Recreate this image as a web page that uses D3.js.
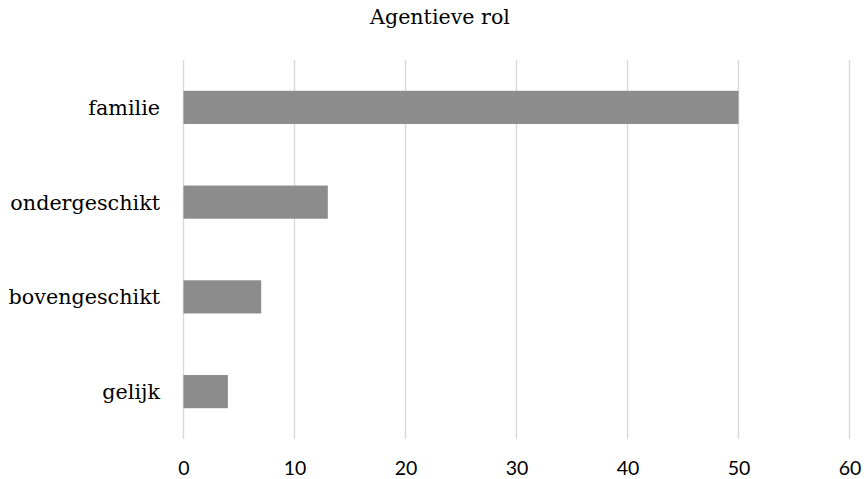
<!DOCTYPE html>
<html>
<head>
<meta charset="utf-8">
<script src="https://cdn.jsdelivr.net/npm/d3@7"></script>
<style>
  html, body { margin: 0; padding: 0; background: #fff; }
  svg { display: block; }
</style>
</head>
<body>
<svg id="chart" width="866" height="479"></svg>
<script>
// Agentieve rol — counts per category
const categories = ["familie", "ondergeschikt", "bovengeschikt", "gelijk"];
const counts = [50, 13, 7, 4];
const tickValues = [0, 10, 20, 30, 40, 50, 60];
const title = "Agentieve rol";

const svg = d3.select("#chart");
const margin = { left: 183.5, right: 16.5, top: 60, bottom: 40 };
const W = 866, H = 479;

const x = d3.scaleLinear()
  .domain([0, 60])
  .range([margin.left, W - margin.right]);

const y = d3.scaleBand()
  .domain(categories)
  .range([margin.top, H - margin.bottom])
  .paddingInner(0.65)
  .paddingOuter(0.325);

const serif = "'DejaVu Serif', serif";

// title
svg.append("text")
  .attr("x", 440)
  .attr("y", 24)
  .attr("text-anchor", "middle")
  .attr("font-family", serif)
  .attr("font-size", 20.6)
  .attr("fill", "#000")
  .text(title);

// vertical gridlines
svg.append("g")
  .selectAll("line")
  .data(tickValues)
  .join("line")
  .attr("x1", d => x(d))
  .attr("x2", d => x(d))
  .attr("y1", margin.top)
  .attr("y2", H - margin.bottom)
  .attr("stroke", "#d9d9d9")
  .attr("stroke-width", 1.4);

// bars
const data = categories.map((c, i) => ({ c, v: counts[i] }));
svg.append("g")
  .selectAll("rect")
  .data(data)
  .join("rect")
  .attr("x", x(0))
  .attr("y", d => y(d.c))
  .attr("width", d => x(d.v) - x(0))
  .attr("height", y.bandwidth())
  .attr("fill", "#8c8c8c");

// x axis tick labels
const xAxis = d3.axisBottom(x)
  .tickValues(tickValues)
  .tickSize(0)
  .tickPadding(0)
  .tickFormat(d3.format("d"));
const gx = svg.append("g")
  .attr("transform", `translate(0, ${H - margin.bottom})`)
  .call(xAxis);
gx.select(".domain").remove();
gx.selectAll("text")
  .attr("y", 36)
  .attr("dy", null)
  .attr("font-family", "Lato, 'Open Sans', sans-serif")
  .attr("font-size", 19.5)
  .attr("fill", "#000");

// category labels
const yAxis = d3.axisLeft(y).tickSize(0).tickPadding(0);
const gy = svg.append("g")
  .attr("transform", "translate(160, 0)")
  .call(yAxis);
gy.select(".domain").remove();
gy.selectAll("text")
  .attr("dy", "0.36em")
  .attr("font-family", serif)
  .attr("font-size", 20.7)
  .attr("fill", "#000");
</script>
</body>
</html>
